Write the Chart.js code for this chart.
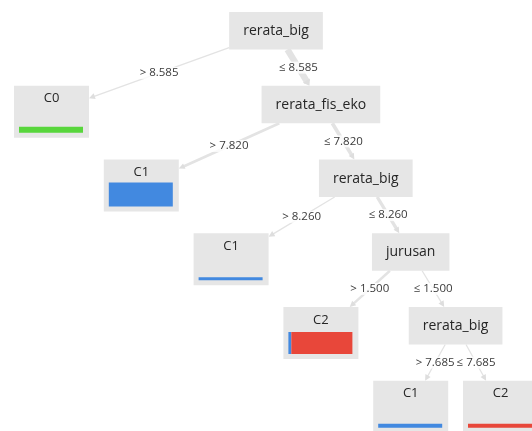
<!DOCTYPE html>
<html>
<head>
<meta charset="utf-8">
<script src="https://cdn.jsdelivr.net/npm/chart.js@4.4.1/dist/chart.umd.min.js"></script>
<style>
  html, body { margin: 0; padding: 0; background: #fff; }
  #tree { display: block; }
</style>
</head>
<body>
<canvas id="tree" width="532" height="431"></canvas>
<script>
// tree nodes in pre-order, parent -1 = root
const nodeNames  = ['rerata_big', 'C0', 'rerata_fis_eko', 'C1', 'rerata_big', 'C1', 'jurusan', 'C2', 'rerata_big', 'C1', 'C2'];
const nodeParent = [-1, 0, 0, 2, 2, 4, 4, 6, 6, 8, 8];
const edgeLabels = ['', '> 8.585', '\u2264 8.585', '> 7.820', '\u2264 7.820', '> 8.260', '\u2264 8.260', '> 1.500', '\u2264 1.500', '> 7.685', '\u2264 7.685'];

// class counts in the leaves (0 for split nodes)
const classNames = ['C0', 'C1', 'C2'];
const countC0 = [0, 6, 0, 0, 0, 0, 0, 0, 0, 0, 0];
const countC1 = [0, 0, 0, 24, 0, 3, 0, 1, 0, 4, 0];
const countC2 = [0, 0, 0, 0, 0, 0, 0, 21, 0, 0, 4];
const classCounts = [countC0, countC1, countC2];
const classColors = ['#58d63c', '#4289e0', '#e8473a'];

// --- simple tree layout: leaves evenly spaced, parents centred over their leaves ---
const children = nodeNames.map(() => []);
nodeParent.forEach((p, i) => { if (p >= 0) children[p].push(i); });

const nodeDepth = nodeParent.map(() => 0);
nodeParent.forEach((p, i) => { if (p >= 0) nodeDepth[i] = nodeDepth[p] + 1; });

const nodeX = nodeNames.map(() => 0);
let leafCounter = 0;
function place(i) {
    if (!children[i].length) {
        nodeX[i] = leafCounter++;
        return [nodeX[i], nodeX[i]];
    }
    const spans = children[i].map(place);
    const lo = Math.min(...spans.map(s => s[0]));
    const hi = Math.max(...spans.map(s => s[1]));
    nodeX[i] = (lo + hi) / 2;
    return [lo, hi];
}
place(0);

// samples per node
const nodeTotal = nodeNames.map((n, i) => classCounts.reduce((s, arr) => s + arr[i], 0));
for (let i = nodeNames.length - 1; i >= 0; i--) {
    children[i].forEach(c => { nodeTotal[i] += nodeTotal[c]; });
}

const isLeaf = i => children[i].length === 0;

// point where a ray from the box centre towards (tx, ty) leaves the box
function boxExit(b, tx, ty) {
    const dx = tx - b.cx, dy = ty - b.cy;
    let t = Infinity;
    if (dx > 0) t = Math.min(t, (b.r - b.cx) / dx);
    if (dx < 0) t = Math.min(t, (b.l - b.cx) / dx);
    if (dy > 0) t = Math.min(t, (b.b - b.cy) / dy);
    if (dy < 0) t = Math.min(t, (b.t - b.cy) / dy);
    return { x: b.cx + dx * t, y: b.cy + dy * t };
}

const treePlugin = {
    id: 'treePlugin',
    afterDatasetsDraw(chart) {
        const ctx = chart.ctx;
        const xs = chart.scales.x, ys = chart.scales.y;

        // boxes
        const boxes = nodeNames.map((name, i) => {
            const cx = xs.getPixelForValue(nodeX[i]);
            const top = ys.getPixelForValue(nodeDepth[i]) - 18.5;
            let w, h;
            if (isLeaf(i)) {
                w = 75; h = 52;
            } else {
                ctx.font = '14px "Open Sans"';
                w = ctx.measureText(name).width + 28; h = 37.5;
            }
            return { l: cx - w / 2, r: cx + w / 2, t: top, b: top + h, cx: cx, cy: top + h / 2, w: w, h: h };
        });

        ctx.save();

        // edges with arrow heads
        const mids = [];
        nodeParent.forEach((p, i) => {
            if (p < 0) return;
            const a = boxExit(boxes[p], boxes[i].cx, boxes[i].cy);
            const b = boxExit(boxes[i], boxes[p].cx, boxes[p].cy);
            mids[i] = { x: (a.x + b.x) / 2, y: (a.y + b.y) / 2 };
            const len = Math.hypot(b.x - a.x, b.y - a.y);
            const ux = (b.x - a.x) / len, uy = (b.y - a.y) / len;
            const lw = Math.max(1.3, nodeTotal[i] / nodeTotal[0] * 7);

            ctx.strokeStyle = '#e3e3e3';
            ctx.lineWidth = lw;
            ctx.lineCap = 'butt';
            ctx.beginPath();
            ctx.moveTo(a.x, a.y);
            ctx.lineTo(b.x - ux * 4, b.y - uy * 4);
            ctx.stroke();

            const al = 6, aw = Math.max(3, lw / 2 + 1);
            ctx.fillStyle = '#dedede';
            ctx.beginPath();
            ctx.moveTo(b.x, b.y);
            ctx.lineTo(b.x - ux * al - uy * aw, b.y - uy * al + ux * aw);
            ctx.lineTo(b.x - ux * al + uy * aw, b.y - uy * al - ux * aw);
            ctx.closePath();
            ctx.fill();
        });

        // node boxes, labels and class bars
        boxes.forEach((bx, i) => {
            ctx.fillStyle = '#e6e6e6';
            ctx.fillRect(bx.l, bx.t, bx.w, bx.h);
            ctx.fillStyle = '#262626';
            ctx.textAlign = 'center';
            ctx.textBaseline = 'middle';
            if (!isLeaf(i)) {
                ctx.font = '14px "Open Sans"';
                ctx.fillText(nodeNames[i], bx.cx, bx.cy + 0.5);
                return;
            }
            ctx.font = '13px "Open Sans"';
            ctx.fillText(nodeNames[i], bx.cx, bx.t + 13);

            const barL = bx.l + 5, barW = bx.w - 11;
            const barH = nodeTotal[i];
            const barB = bx.b - 5;
            let x0 = barL;
            classCounts.forEach((arr, c) => {
                if (!arr[i]) return;
                const sw = barW * arr[i] / nodeTotal[i];
                ctx.fillStyle = classColors[c];
                ctx.fillRect(x0, barB - barH, sw, barH);
                x0 += sw;
            });
        });

        // edge labels
        ctx.font = '11.5px "Open Sans"';
        ctx.textAlign = 'center';
        ctx.textBaseline = 'middle';
        nodeParent.forEach((p, i) => {
            if (p < 0) return;
            const m = mids[i];
            const tw = ctx.measureText(edgeLabels[i]).width;
            ctx.fillStyle = 'rgba(255,255,255,0.8)';
            ctx.fillRect(m.x - tw / 2 - 1, m.y - 6, tw + 2, 12);
            ctx.fillStyle = '#3a3a3a';
            ctx.fillText(edgeLabels[i], m.x, m.y);
        });

        ctx.restore();
    }
};

new Chart(document.getElementById('tree'), {
    type: 'scatter',
    data: {
        datasets: [{
            label: 'nodes',
            data: nodeNames.map((n, i) => ({ x: nodeX[i], y: nodeDepth[i] })),
            pointRadius: 0
        }]
    },
    options: {
        responsive: false,
        animation: false,
        events: [],
        layout: { padding: 0 },
        plugins: {
            legend: { display: false },
            tooltip: { enabled: false }
        },
        scales: {
            x: { type: 'linear', display: false, min: -0.5735, max: 5.3508 },
            y: { type: 'linear', display: false, reverse: true, min: -0.4136, max: 5.4305 }
        }
    },
    plugins: [treePlugin]
});
</script>
</body>
</html>
